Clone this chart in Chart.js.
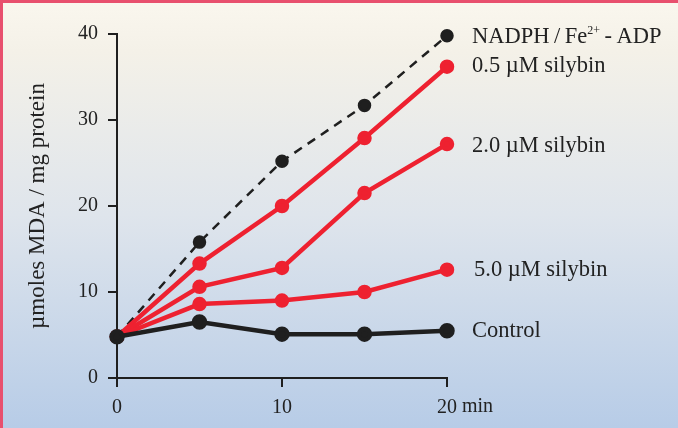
<!DOCTYPE html>
<html>
<head>
<meta charset="utf-8">
<script src="https://cdn.jsdelivr.net/npm/chart.js@4/dist/chart.umd.min.js"></script>
<style>
  html, body { margin: 0; padding: 0; }
  #wrap {
    position: relative; width: 678px; height: 428px;
    background: linear-gradient(#faf7ee 0%, #f4f1e8 12%, #dfe5ec 50%, #b7cce7 100%);
  }
  #frame {
    position: absolute; left: 0; top: 0; right: 0; bottom: 0;
    border-top: 3px solid #e8506e; border-left: 3px solid #e8506e;
    pointer-events: none;
  }
  canvas { position: absolute; left: 0; top: 0; }
</style>
</head>
<body>
<div id="wrap">
  <canvas id="chart" width="678" height="428"></canvas>
  <div id="frame"></div>
</div>
<script>
// --- data ---
const minutes = [0, 5, 10, 15, 20];
const nadph = [4.8, 15.8, 25.2, 31.7, 39.8];
const silybin05 = [4.8, 13.3, 20.0, 27.9, 36.2];
const silybin20 = [4.8, 10.6, 12.8, 21.5, 27.2];
const silybin50 = [4.8, 8.6, 9.0, 10.0, 12.6];
const control = [4.8, 6.5, 5.1, 5.1, 5.5];

const xTicks = [0, 10, 20];
const yTicks = [0, 10, 20, 30, 40];

const RED = '#ee2130';
const BLACK = '#1f1f1f';
const FONT = '"Liberation Serif", "DejaVu Serif", serif';

const pts = arr => minutes.map((m, i) => ({ x: m, y: arr[i] }));

// labels at the right end of each line
const endLabels = [
  { data: nadph, parts: [['NADPH\u2009/\u2009Fe', 0], ['2+', 1], ['\u2009-\u2009ADP', 0]], dy: 1, dx: 0 },
  { data: silybin05, parts: [['0.5 µM silybin', 0]], dy: -1, dx: 0 },
  { data: silybin20, parts: [['2.0 µM silybin', 0]], dy: 2, dx: 0 },
  { data: silybin50, parts: [['5.0 µM silybin', 0]], dy: 0, dx: 2 },
  { data: control, parts: [['Control', 0]], dy: 0, dx: 0 }
];

const extras = {
  id: 'extras',
  afterDraw(chart) {
    const { ctx, scales: { x, y } } = chart;
    ctx.save();
    ctx.fillStyle = '#222';
    ctx.textBaseline = 'middle';
    ctx.textAlign = 'left';
    endLabels.forEach(l => {
      let px = x.getPixelForValue(20) + 25 + l.dx;
      const py = y.getPixelForValue(l.data[l.data.length - 1]) + l.dy;
      l.parts.forEach(([txt, sup]) => {
        ctx.font = sup ? '12px ' + FONT : '22.5px ' + FONT;
        ctx.fillText(txt, px, sup ? py - 6 : py);
        px += ctx.measureText(txt).width;
      });
    });
    // unit after the last x tick
    ctx.font = '20px ' + FONT;
    ctx.textBaseline = 'middle';
    const w20 = ctx.measureText('20').width;
    ctx.fillText(' min', x.getPixelForValue(20) + w20 / 2, x.top + 29);
    ctx.restore();
  }
};

new Chart(document.getElementById('chart'), {
  type: 'line',
  data: {
    datasets: [
      { label: 'Control', data: pts(control), borderColor: BLACK, backgroundColor: BLACK,
        borderWidth: 4.5, pointRadius: 5.5, order: 0 },
      { label: '5.0 µM silybin', data: pts(silybin50), borderColor: RED, backgroundColor: RED,
        borderWidth: 4.5, pointRadius: 5, order: 1 },
      { label: '2.0 µM silybin', data: pts(silybin20), borderColor: RED, backgroundColor: RED,
        borderWidth: 4.5, pointRadius: 5, order: 2 },
      { label: '0.5 µM silybin', data: pts(silybin05), borderColor: RED, backgroundColor: RED,
        borderWidth: 4.5, pointRadius: 5, order: 3 },
      { label: 'NADPH/Fe2+-ADP', data: pts(nadph), borderColor: BLACK, backgroundColor: BLACK,
        borderWidth: 2.5, borderDash: [9, 7], pointRadius: 5.5, order: 4 }
    ]
  },
  options: {
    responsive: false,
    animation: false,
    clip: false,
    layout: { padding: { top: 34, right: 231, left: 0, bottom: 0 } },
    elements: { line: { tension: 0, borderCapStyle: 'butt' }, point: { borderWidth: 0, hoverRadius: 5 } },
    plugins: { legend: { display: false }, tooltip: { enabled: false } },
    scales: {
      x: {
        type: 'linear', min: 0, max: 20,
        afterBuildTicks: s => { s.ticks = xTicks.map(v => ({ value: v })); },
        afterFit: s => { s.height = 50; },
        border: { display: true, color: BLACK, width: 2 },
        grid: { drawOnChartArea: false, drawTicks: true, tickLength: 9, color: BLACK, lineWidth: 2 },
        ticks: { color: '#222', padding: 9, maxRotation: 0, font: { family: FONT, size: 20 } }
      },
      y: {
        min: 0, max: 40,
        afterBuildTicks: s => { s.ticks = yTicks.map(v => ({ value: v })); },
        afterFit: s => { s.width = 117; },
        border: { display: true, color: BLACK, width: 2 },
        grid: { drawOnChartArea: false, drawTicks: true, tickLength: 9, color: BLACK, lineWidth: 2 },
        ticks: { color: '#222', padding: 10, font: { family: FONT, size: 20 } },
        title: { display: true, text: 'µmoles MDA / mg protein', color: '#222', padding: { top: 24, bottom: 0 },
          font: { family: FONT, size: 23 } }
      }
    }
  },
  plugins: [extras]
});
</script>
</body>
</html>
